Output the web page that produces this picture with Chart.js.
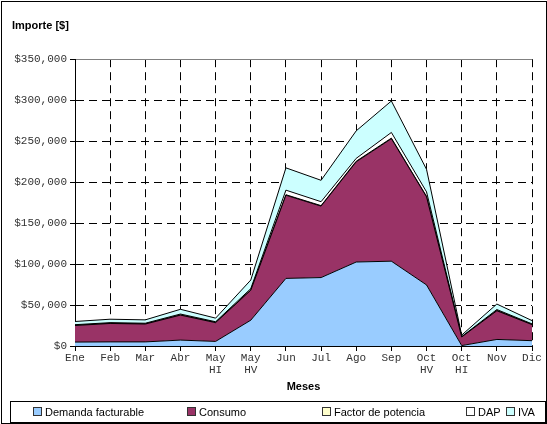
<!DOCTYPE html>
<html>
<head>
<meta charset="utf-8">
<script src="https://cdn.jsdelivr.net/npm/chart.js@4"></script>
<style>
html,body{margin:0;padding:0;background:#fff;}
#wrap{position:relative;width:547px;height:424px;overflow:hidden;background:#fff;}
#c{position:absolute;left:0;top:0;}
#frame{position:absolute;left:1px;top:1px;width:546px;height:423px;border:1px solid #000;box-sizing:border-box;pointer-events:none;}
#legend{position:absolute;left:10px;top:401px;width:536px;height:22px;border:1px solid #000;box-sizing:border-box;font:11px "Liberation Sans",Arial,sans-serif;color:#000;}
.item{position:absolute;top:3px;white-space:nowrap;line-height:14px;}
.sw{display:inline-block;width:7px;height:7px;border:1px solid #333;margin-right:3px;vertical-align:0px;}
</style>
</head>
<body>
<div id="wrap">
<canvas id="c" width="547" height="424"></canvas>
<div id="frame"></div>
<div id="legend"></div>
</div>
<script>
const categories = ['Ene','Feb','Mar','Abr',['May','HI'],['May','HV'],'Jun','Jul','Ago','Sep',['Oct','HV'],['Oct','HI'],'Nov','Dic'];
const seriesNames = ['Demanda facturable','Consumo','Factor de potencia','DAP','IVA'];
const demandaFacturable = [4800,5000,5000,7200,5600,31500,82500,83500,102500,103500,74500,500,8000,6500];
const consumo = [20200,22500,21800,30500,22900,36500,101500,87200,122300,149500,107500,10500,35000,19600];
const factorPotencia = [300,300,300,300,300,500,600,600,700,700,600,200,400,300];
const dap = [700,700,700,1000,800,1500,5600,4800,3500,6900,5500,300,1100,600];
const iva = [3900,4200,4100,5800,4400,10500,27200,26100,33600,38400,27500,1800,6700,4000];
const yTicks = [0,50000,100000,150000,200000,250000,300000,350000];
const colors = ['#99CCFF','#993366','#FFFFCC','#FFFFFF','#CCFFFF'];
const legendX = [32,186,321,465,505];

const seriesData = [demandaFacturable, consumo, factorPotencia, dap, iva];
const datasets = seriesData.map((d,i)=>({
  label: seriesNames[i],
  data: d,
  backgroundColor: colors[i],
  borderColor: '#000',
  borderWidth: 1,
  pointRadius: 0,
  tension: 0,
  fill: i===0 ? 'origin' : '-1'
}));

const mono = '"Liberation Mono","Courier New",monospace';
const sans = '"Liberation Sans",Arial,sans-serif';

new Chart(document.getElementById('c'), {
  type: 'line',
  data: { labels: categories, datasets },
  options: {
    responsive: false,
    animation: false,
    devicePixelRatio: 1,
    layout: { padding: { left: 12, right: 15, top: 0, bottom: 28 } },
    plugins: {
      legend: { display: false },
      tooltip: { enabled: false },
      title: {
        display: true, text: 'Importe [$]', align: 'start', color: '#000',
        font: { family: sans, size: 11, weight: 'bold' },
        padding: { top: 19, bottom: 27 }
      }
    },
    scales: {
      x: {
        offset: false,
        grid: { color: '#000', lineWidth: 1, tickLength: 5, tickColor: '#000', offset: false },
        border: { display: true, color: '#000', width: 1, dash: [8,5] },
        ticks: { color: '#333', font: { family: mono, size: 11, lineHeight: 1.1 }, padding: 1, maxRotation: 0, autoSkip: false },
        title: { display: true, text: 'Meses', color: '#000', font: { family: sans, size: 11, weight: 'bold' }, padding: { top: 0, bottom: 2 } },
        afterFit: (s) => { s.height = 50; }
      },
      y: {
        stacked: true,
        min: 0, max: 350000,
        afterBuildTicks: (s) => { s.ticks = yTicks.map(v => ({ value: v })); },
        ticks: { color: '#333', font: { family: mono, size: 11 }, padding: 3,
          callback: (v) => '$' + Number(v).toLocaleString('en-US') },
        grid: { lineWidth: 1, tickLength: 5, tickColor: '#000',
          color: (c) => (c.tick && c.tick.value === 350000) ? '#808080' : '#000' },
        border: { display: true, color: '#000', width: 1,
          dash: (c) => (c.tick && c.tick.value === 350000) ? [] : [8,5] },
        afterFit: (s) => { s.width = 63; }
      }
    }
  }
});

const leg = document.getElementById('legend');
seriesNames.forEach((n,i)=>{
  const it = document.createElement('div');
  it.className = 'item';
  it.style.left = (legendX[i] - 10) + 'px';
  const sw = document.createElement('span');
  sw.className = 'sw';
  sw.style.background = colors[i];
  it.appendChild(sw);
  it.appendChild(document.createTextNode(n));
  leg.appendChild(it);
});
</script>
</body>
</html>
